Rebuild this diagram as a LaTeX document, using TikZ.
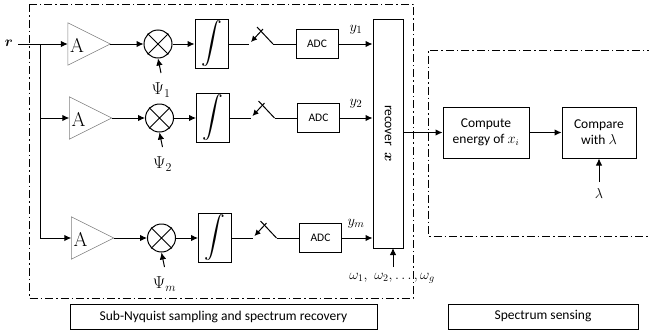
\documentclass[tikz,border=0pt]{standalone}
\usepackage{fontspec}
\usepackage{amsmath,bm}
\usetikzlibrary{arrows.meta,calc}
\newfontfamily\calib{Carlito}
\begin{document}
\begin{tikzpicture}[x=1pt,y=-1pt,
  arr/.style={line width=1pt,-{Latex[length=7pt,width=6.5pt]}},
  ln/.style={line width=1pt},
  blk/.style={draw,line width=1pt,inner sep=0pt},
  ddot/.style={line width=1pt,dash pattern=on 8pt off 3pt on 1.5pt off 3pt},
  lbl/.style={font=\calib\fontsize{13.5}{16}\selectfont,align=center}]
\useasboundingbox (0,0) rectangle (649,335);
\clip (0,0) rectangle (649,335);
% dash-dot frames
\draw[ddot] (29,4) rectangle (413,298);
\draw[ddot] (655,50) -- (428,50) -- (428,236) -- (655,236);
% input
\node[inner sep=0pt] (r) at (9,43) {\fontsize{15}{17}\selectfont$\bm{r}$};
\coordinate (rin) at (18,44);
\coordinate (br) at (40,44);
% rows
\foreach \i/\y/\dx in {1/44/0, 2/118/1.5, m/238/3.5}{
  \node[minimum width=42pt,minimum height=42pt,inner sep=0pt] (a\i) at (89+\dx,\y) {};
  \draw[gray,line width=0.6pt] (a\i.north west) -- (a\i.east) -- (a\i.south west) -- cycle;
  \node[anchor=west,inner sep=0pt] at ([xshift=2pt,yshift=-1pt]a\i.west) {\fontsize{20}{20}\selectfont A};
  \node[circle,draw,line width=1pt,minimum size=28pt,inner sep=0pt] (m\i) at (158+\dx,\y) {};
  \draw[ln] (m\i.north west) -- (m\i.south east) (m\i.north east) -- (m\i.south west);
  \node[blk,minimum width=33pt,minimum height=49pt] (int\i) at (211.5+\dx,\y) {\fontsize{21}{21}\selectfont$\displaystyle\int$};
  \coordinate (sa\i) at (249+\dx,\y);
  \coordinate (sb\i) at (273+\dx,\y);
  \node[blk,minimum width=42pt,minimum height=29pt,font=\calib\fontsize{11.5}{13}\selectfont] (adc\i) at (317+\dx,\y) {ADC};
  \node[inner sep=0pt] (psi\i) at (161+\dx,\y+46) {\fontsize{17}{19}\selectfont$\Psi_{\i}$};
  \node[inner sep=0pt] (yl\i) at (356,\y-14) {\fontsize{15}{17}\selectfont$y_{\i}$};
  \draw[arr] (a\i.east) -- (m\i.west);
  \draw[arr] (m\i.east) -- (int\i.west);
  \draw[ln] (int\i.east) -- (sa\i);
  \draw[ln] (sb\i) -- ++(-16,-17);
  \draw[ln,-{Latex[length=6pt,width=6pt]}] ($(sb\i)+(-10,-15)$) -- ($(sa\i)+(2,-2)$);
  \draw[ln] (sb\i) -- (adc\i.west);
  \draw[arr] (psi\i.north |- 0,\y+29) -- (m\i.south);
}
\draw[ln] (rin) -- (br);
\draw[arr] (br) -- (a1.west);
\draw[ln] (br) -- (40,238);
\draw[arr] (40,118) -- (a2.west);
\draw[arr] (40,238) -- (am.west);
% recover
\node[blk,minimum width=30pt,minimum height=229pt] (rec) at (388,133.5) {};
\node[rotate=-90,font=\calib\fontsize{13.5}{16}\selectfont] at (rec.center) {recover\ \ $\bm{x}$};
\foreach \i in {1,2,m}{\draw[arr] (adc\i.east) -- (adc\i.east -| rec.west);}
\node[inner sep=0pt] (w) at (392,278) {\fontsize{14}{16}\selectfont$\omega_1,\ \omega_2, \ldots, \omega_g$};
\coordinate (wtop) at (393,248);
\draw[arr] (393,267) -- (wtop);
% spectrum sensing
\node[blk,lbl,minimum width=86pt,minimum height=51pt] (comp) at (486,132.5) {Compute\\energy of $x_i$};
\node[blk,lbl,minimum width=74pt,minimum height=51pt] (cmp) at (599,132.5) {Compare\\with $\lambda$};
\draw[arr] (rec.east |- comp.west) -- (comp.west);
\draw[arr] (comp.east) -- (cmp.west);
\node[inner sep=0pt] (lam) at (599,193) {\fontsize{14}{16}\selectfont$\lambda$};
\draw[arr] (599,182) -- (cmp.south);
% captions
\node[blk,lbl,minimum width=307pt,minimum height=25pt] (cap1) at (223.5,316.5) {Sub-Nyquist sampling and spectrum recovery};
\node[blk,lbl,minimum width=190pt,minimum height=25pt] (cap2) at (543,316.5) {Spectrum sensing};
\end{tikzpicture}
\end{document}
